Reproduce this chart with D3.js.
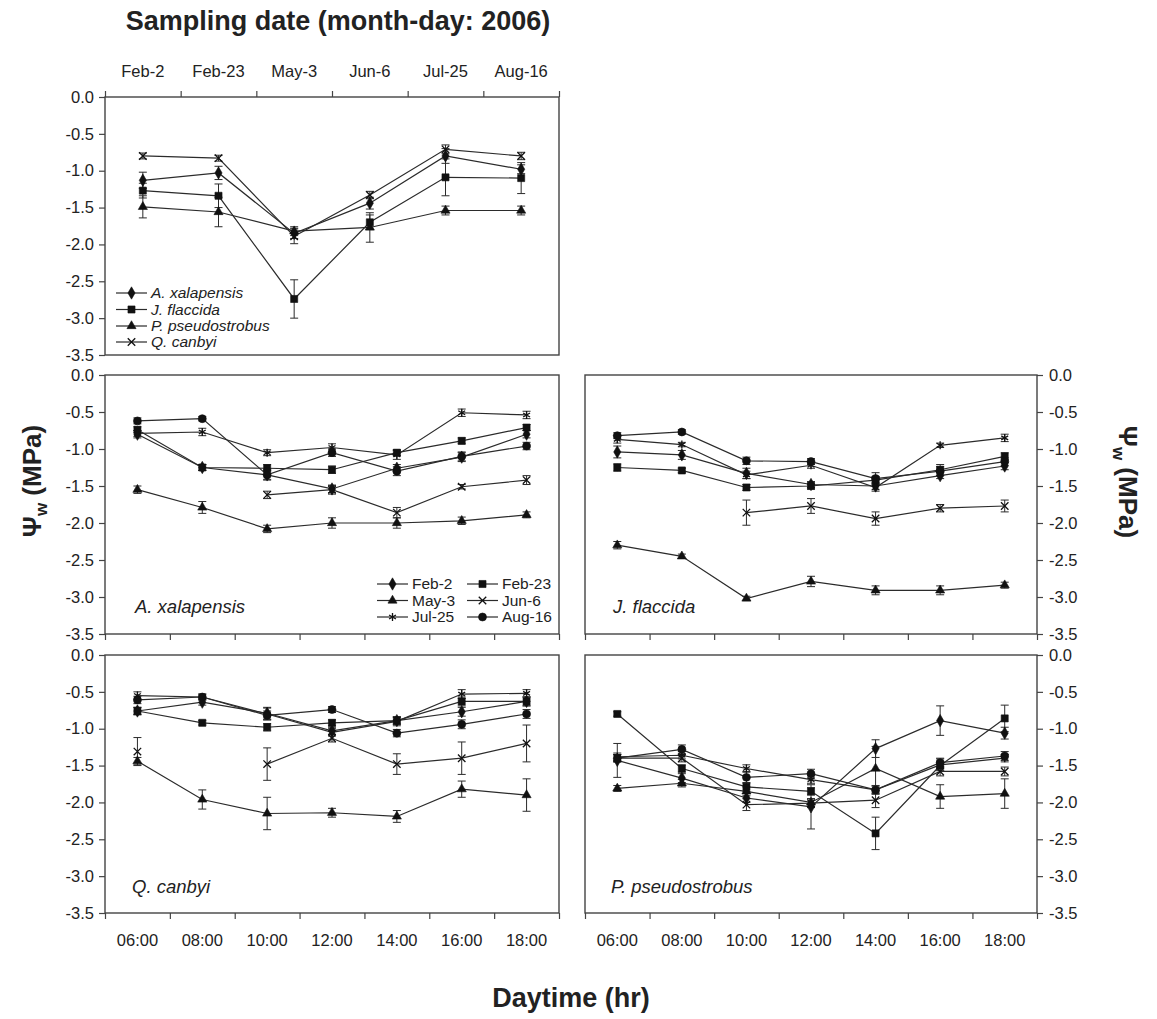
<!DOCTYPE html>
<html lang="en">
<head>
<meta charset="UTF-8">
<title>Leaf water potential - daily courses</title>
<script src="https://d3js.org/d3.v7.min.js"></script>
<style>
  body { margin: 0; background: #fff; }
  svg { font-family: Arial, "Liberation Sans", sans-serif; }
  .tick text { font-size: 16.5px; fill: #222; font-family: Arial, "Liberation Sans", sans-serif; }
  .tick line { stroke: #444; stroke-width: 1.2px; }
</style>
</head>
<body>
<svg id="chart" width="1157" height="1019"></svg>
<script>
const dates = ["Feb-2", "Feb-23", "May-3", "Jun-6", "Jul-25", "Aug-16"];
const hours = ["06:00", "08:00", "10:00", "12:00", "14:00", "16:00", "18:00"];
const species = ["A. xalapensis", "J. flaccida", "P. pseudostrobus", "Q. canbyi"];
const yTicks = [0, -0.5, -1, -1.5, -2, -2.5, -3, -3.5];

// top panel: one row per species, one value per sampling date
const seasonMean = [
  [-1.13, -1.03, -1.85, -1.44, -0.80, -0.98],
  [-1.27, -1.34, -2.74, -1.70, -1.09, -1.10],
  [-1.49, -1.56, -1.82, -1.77, -1.54, -1.54],
  [-0.80, -0.83, -1.89, -1.33, -0.71, -0.80]
];
const seasonErr = [
  [0.11, 0.09, 0.07, 0.08, 0.10, 0.06],
  [0.10, 0.16, 0.26, 0.10, 0.25, 0.21],
  [0.15, 0.20, 0.06, 0.20, 0.06, 0.06],
  [0.04, 0.04, 0.10, 0.05, 0.06, 0.05]
];

// diurnal panels: one row per sampling date, one value per hour
const axMean = [
  [-0.80, -1.25, -1.35, -1.54, -1.26, -1.11, -0.80],
  [-0.74, -1.25, -1.26, -1.28, -1.05, -0.89, -0.71],
  [-1.55, -1.79, -2.08, -2.00, -2.00, -1.97, -1.89],
  [null, null, -1.62, -1.55, -1.86, -1.51, -1.42],
  [-0.79, -0.77, -1.05, -0.98, -1.08, -0.51, -0.54],
  [-0.62, -0.59, -1.35, -1.05, -1.30, -1.10, -0.96]
];
const axErr = [
  [0.05, 0.04, 0.06, 0.05, 0.05, 0.06, 0.05],
  [0.04, 0.04, 0.05, 0.05, 0.04, 0.04, 0.04],
  [0.05, 0.08, 0.05, 0.07, 0.07, 0.05, 0.04],
  [null, null, 0.05, 0.06, 0.07, 0.03, 0.06],
  [0.04, 0.05, 0.04, 0.05, 0.06, 0.05, 0.05],
  [0.04, 0.03, 0.07, 0.05, 0.06, 0.06, 0.05]
];

const jfMean = [
  [-1.04, -1.08, -1.33, -1.48, -1.50, -1.36, -1.23],
  [-1.25, -1.29, -1.52, -1.50, -1.42, -1.28, -1.10],
  [-2.30, -2.45, -3.02, -2.79, -2.91, -2.91, -2.84],
  [null, null, -1.86, -1.77, -1.94, -1.80, -1.77],
  [-0.87, -0.94, -1.35, -1.22, -1.52, -0.95, -0.85],
  [-0.82, -0.77, -1.16, -1.17, -1.40, -1.30, -1.17]
];
const jfErr = [
  [0.08, 0.06, 0.07, 0.04, 0.05, 0.04, 0.05],
  [0.05, 0.03, 0.04, 0.04, 0.05, 0.07, 0.05],
  [0.05, 0.03, 0.03, 0.07, 0.06, 0.06, 0.04],
  [null, null, 0.17, 0.10, 0.09, 0.05, 0.08],
  [0.05, 0.03, 0.05, 0.04, 0.05, 0.03, 0.05],
  [0.04, 0.03, 0.05, 0.04, 0.08, 0.06, 0.05]
];

const qcMean = [
  [-0.76, -0.64, -0.79, -1.03, -0.89, -0.77, -0.63],
  [-0.76, -0.92, -0.98, -0.92, -0.89, -0.63, -0.63],
  [-1.44, -1.96, -2.15, -2.14, -2.19, -1.82, -1.90],
  [-1.31, null, -1.48, -1.13, -1.48, -1.40, -1.20],
  [-0.55, -0.57, -0.80, -1.05, -0.90, -0.53, -0.52],
  [-0.61, -0.57, -0.82, -0.74, -1.06, -0.94, -0.80]
];
const qcErr = [
  [0.05, 0.04, 0.08, 0.05, 0.05, 0.06, 0.06],
  [0.05, 0.03, 0.05, 0.04, 0.05, 0.06, 0.06],
  [0.05, 0.13, 0.22, 0.06, 0.08, 0.11, 0.22],
  [0.19, null, 0.22, 0.05, 0.14, 0.22, 0.25],
  [0.05, 0.04, 0.08, 0.05, 0.06, 0.06, 0.05],
  [0.05, 0.04, 0.06, 0.04, 0.05, 0.06, 0.06]
];

const ppMean = [
  [-1.43, -1.67, -1.94, -2.06, -1.27, -0.89, -1.06],
  [-0.80, -1.54, -1.79, -1.85, -2.42, -1.50, -0.86],
  [-1.81, -1.74, -1.85, -2.00, -1.54, -1.92, -1.88],
  [-1.40, -1.40, -2.03, -2.01, -1.97, -1.58, -1.58],
  [-1.38, -1.36, -1.54, -1.69, -1.83, -1.49, -1.40],
  [-1.40, -1.28, -1.66, -1.61, -1.83, -1.46, -1.37]
];
const ppErr = [
  [0.23, 0.06, 0.06, 0.30, 0.12, 0.20, 0.08],
  [0.03, 0.05, 0.06, 0.05, 0.22, 0.06, 0.18],
  [0.04, 0.05, 0.06, 0.05, 0.30, 0.16, 0.20],
  [0.05, 0.05, 0.08, 0.06, 0.10, 0.06, 0.06],
  [0.05, 0.05, 0.05, 0.05, 0.05, 0.08, 0.05],
  [0.05, 0.06, 0.08, 0.06, 0.06, 0.06, 0.06]
];

const svg = d3.select("#chart");
const ink = "#2b2b2b";

// marker shapes
const shapes = {
  diamond: { type: d3.symbolDiamond, size: 44, fill: true },
  square: { type: d3.symbolSquare, size: 50, fill: true },
  triangle: { type: d3.symbolTriangle, size: 36, fill: true },
  times: { type: d3.symbolTimes, size: 38, fill: false },
  asterisk: { type: d3.symbolAsterisk, size: 44, fill: false },
  circle: { type: d3.symbolCircle, size: 50, fill: true }
};
const speciesShapes = ["diamond", "square", "triangle", "times"];
const dateShapes = ["diamond", "square", "triangle", "times", "asterisk", "circle"];

function marker(g, name, cx, cy) {
  const s = shapes[name];
  g.append("path")
    .attr("d", d3.symbol().type(s.type).size(s.size)())
    .attr("transform", `translate(${cx},${cy})`)
    .attr("fill", s.fill ? "#111" : "none")
    .attr("stroke", "#111")
    .attr("stroke-width", s.fill ? 0.6 : 1.3);
}

function drawPanel(box, cats, means, errs, shapeNames, opt) {
  const g = svg.append("g");
  const x = d3.scaleBand().domain(cats).range([box.x0, box.x1]);
  const y = d3.scaleLinear().domain([0, -3.5]).range([box.y0, box.y1]);
  const edge = d3.scaleLinear().domain([0, cats.length]).range([box.x0, box.x1]);
  const cx = c => x(c) + x.bandwidth() / 2;

  // y axis
  const yAx = opt.yAxis === "left" ? d3.axisLeft(y) : d3.axisRight(y);
  const ya = g.append("g")
    .attr("transform", `translate(${opt.yAxis === "left" ? box.x0 : box.x1},0)`)
    .call(yAx.tickValues(yTicks).tickSize(6).tickSizeOuter(0)
      .tickPadding(opt.yAxis === "left" ? 5 : 6).tickFormat(d => d.toFixed(1)));
  ya.select(".domain").remove();

  // x ticks at the category boundaries
  if (opt.xTicks) {
    const top = opt.xTicks === "top";
    const xa = g.append("g")
      .attr("transform", `translate(0,${top ? box.y0 : box.y1})`)
      .call((top ? d3.axisTop(edge) : d3.axisBottom(edge))
        .tickValues(d3.range(cats.length + 1)).tickSize(6).tickSizeOuter(0).tickFormat(""));
    xa.select(".domain").remove();
  }
  // category labels
  if (opt.xLabels) {
    const top = opt.xLabels === "top";
    const xl = g.append("g")
      .attr("transform", `translate(0,${top ? box.y0 : box.y1})`)
      .call((top ? d3.axisTop(x) : d3.axisBottom(x)).tickSize(0).tickPadding(top ? 20 : 21));
    xl.select(".domain").remove();
  }

  // frame
  g.append("rect")
    .attr("x", box.x0).attr("y", box.y0)
    .attr("width", box.x1 - box.x0).attr("height", box.y1 - box.y0)
    .attr("fill", "none").attr("stroke", "#444").attr("stroke-width", 1.4);

  const line = d3.line()
    .defined(d => d.v != null)
    .x(d => cx(d.c))
    .y(d => y(d.v));

  means.forEach((row, i) => {
    const pts = row.map((v, j) => ({ c: cats[j], v: v, e: errs[i][j] }));
    g.append("path").datum(pts).attr("d", line)
      .attr("fill", "none").attr("stroke", ink).attr("stroke-width", 1.2);
    pts.filter(d => d.v != null && d.e).forEach(d => {
      const px = cx(d.c), ya1 = y(d.v + d.e), ya2 = y(d.v - d.e);
      g.append("path")
        .attr("d", `M${px},${ya1}V${ya2}M${px - 4},${ya1}H${px + 4}M${px - 4},${ya2}H${px + 4}`)
        .attr("fill", "none").attr("stroke", ink).attr("stroke-width", 1);
    });
  });
  means.forEach((row, i) => {
    row.forEach((v, j) => { if (v != null) marker(g, shapeNames[i], cx(cats[j]), y(v)); });
  });

  if (opt.label) {
    g.append("text").attr("x", opt.label.x).attr("y", opt.label.y)
      .attr("font-size", 18.5).attr("font-style", "italic").attr("fill", "#222")
      .text(opt.label.text);
  }
  return g;
}

function legendEntry(g, shape, x, yc, text, italic) {
  g.append("line").attr("x1", x).attr("x2", x + 31).attr("y1", yc).attr("y2", yc)
    .attr("stroke", ink).attr("stroke-width", 1.2);
  marker(g, shape, x + 15.5, yc);
  g.append("text").attr("x", x + 35).attr("y", yc).attr("dy", "0.35em")
    .attr("font-size", 15.5).attr("fill", "#222")
    .attr("font-style", italic ? "italic" : "normal").text(text);
}

// top panel: seasonal means per species
const topG = drawPanel({ x0: 105, x1: 559, y0: 97, y1: 355 }, dates, seasonMean, seasonErr,
  speciesShapes, { yAxis: "left", xTicks: "top", xLabels: "top" });
[293, 309.5, 326, 342].forEach((yc, i) => legendEntry(topG, speciesShapes[i], 116, yc, species[i], true));

// diurnal panels
const axG = drawPanel({ x0: 105, x1: 559, y0: 375, y1: 634 }, hours, axMean, axErr, dateShapes,
  { yAxis: "left", xTicks: "bottom", label: { x: 135, y: 613, text: "A. xalapensis" } });
drawPanel({ x0: 585, x1: 1037, y0: 375, y1: 634 }, hours, jfMean, jfErr, dateShapes,
  { yAxis: "right", xTicks: "bottom", label: { x: 613, y: 613, text: "J. flaccida" } });
drawPanel({ x0: 105, x1: 559, y0: 655, y1: 913 }, hours, qcMean, qcErr, dateShapes,
  { yAxis: "left", xTicks: "bottom", xLabels: "bottom", label: { x: 132, y: 893, text: "Q. canbyi" } });
drawPanel({ x0: 585, x1: 1037, y0: 655, y1: 913 }, hours, ppMean, ppErr, dateShapes,
  { yAxis: "right", xTicks: "bottom", xLabels: "bottom", label: { x: 611, y: 893, text: "P. pseudostrobus" } });

// date legend inside A. xalapensis panel
const legRows = [584, 600.5, 617];
dates.forEach((d, i) => {
  const col = i % 2, row = Math.floor(i / 2);
  legendEntry(axG, dateShapes[i], col === 0 ? 377 : 467, legRows[row], d, false);
});

// titles
svg.append("text").attr("x", 338).attr("y", 30).attr("text-anchor", "middle")
  .attr("font-size", 27).attr("font-weight", "bold").attr("fill", "#222")
  .text("Sampling date (month-day: 2006)");
svg.append("text").attr("x", 571).attr("y", 1007).attr("text-anchor", "middle")
  .attr("font-size", 27).attr("font-weight", "bold").attr("fill", "#222")
  .text("Daytime (hr)");

function psiLabel(xc, yc, angle) {
  const t = svg.append("text")
    .attr("transform", `translate(${xc},${yc}) rotate(${angle})`)
    .attr("text-anchor", "middle").attr("dy", "0.35em")
    .attr("font-size", 26).attr("font-weight", "bold").attr("fill", "#222");
  t.append("tspan").text("\u03A8");
  t.append("tspan").attr("font-size", 17).attr("dy", 6).text("w");
  t.append("tspan").attr("dy", -6).text(" (MPa)");
}
psiLabel(32, 481, -90);
psiLabel(1128, 482, 90);
</script>
</body>
</html>
